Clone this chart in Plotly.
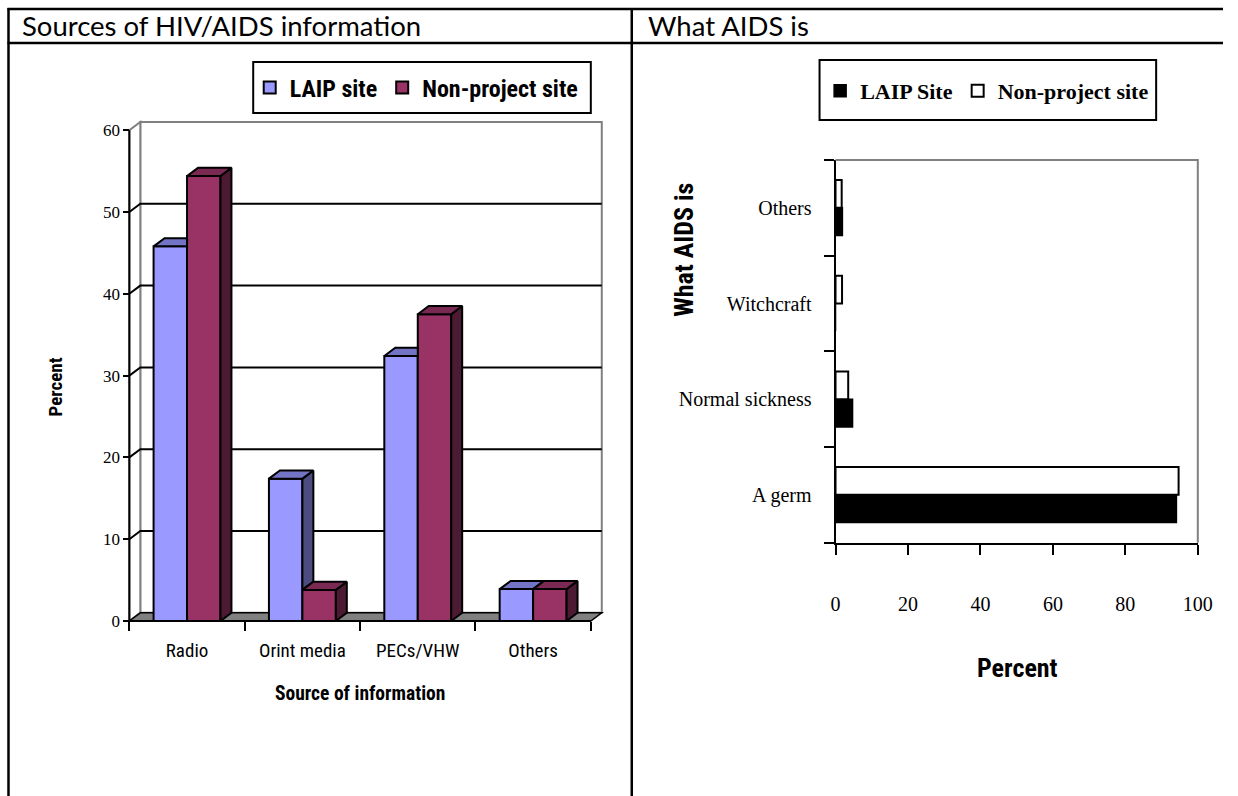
import plotly.graph_objects as go

# ---------------- data ----------------
sources = ["Radio", "Orint media", "PECs/VHW", "Others"]
laip_src = [45.8, 17.4, 32.4, 3.9]
nonproj_src = [54.4, 3.8, 37.5, 3.9]
src_ticks = [0, 10, 20, 30, 40, 50, 60]

meanings = ["A germ", "Normal sickness", "Witchcraft", "Others"]
laip_mean = [94.1, 4.7, 0.0, 1.9]
nonproj_mean = [94.7, 3.5, 1.8, 1.7]
mean_ticks = [0, 20, 40, 60, 80, 100]

# ---------------- page geometry helpers ----------------
W, H = 1238, 796
SX, OX = 0.985, 4.5   # horizontal compensation for the capture
def px(x):
    return ((x - OX) / SX) / W
def py(y):
    return 1 - y / H

COND = "Roboto Condensed, Noto Sans ExtraCondensed, Liberation Sans Narrow, DejaVu Sans Condensed, sans-serif"
SERIF = "Liberation Serif, Times New Roman, serif"
HEAD = "Lato, Open Sans, sans-serif"

# left (3-D column) chart geometry
BW = 0.29            # bar width in category units
DX, DY = 0.095, 1.0  # depth offset in data units
XR = [-0.62, 3.72]
YR = [-1.3, 62.0]
UX, UY = 115.5, 8.18     # target pixels per unit
AX_X, AX_Y = 129, 621    # target pixel position of front axes
left_dom_x = [px(AX_X + (XR[0] + 0.5) * UX), px(AX_X + (XR[1] + 0.5) * UX)]
left_dom_y = [py(AX_Y - YR[0] * UY), py(AX_Y - YR[1] * UY)]

C_L_FRONT, C_L_TOP, C_L_SIDE = "#9999FF", "#7474C6", "#4C4C80"
C_N_FRONT, C_N_TOP, C_N_SIDE = "#993366", "#7A2952", "#4C1A33"

fig = go.Figure()

idx = list(range(len(sources)))
fig.add_trace(go.Bar(x=idx, y=laip_src, width=BW, offset=-BW, name="LAIP site",
                     marker=dict(color=C_L_FRONT, line=dict(color="black", width=2)),
                     xaxis="x", yaxis="y", legend="legend", hoverinfo="skip"))
fig.add_trace(go.Bar(x=idx, y=nonproj_src, width=BW, offset=0, name="Non-project site",
                     marker=dict(color=C_N_FRONT, line=dict(color="black", width=2)),
                     xaxis="x", yaxis="y", legend="legend", hoverinfo="skip"))

# 3-D faces derived from the data
l_side_x, l_side_y, l_top_x, l_top_y = [], [], [], []
n_side_x, n_side_y, n_top_x, n_top_y = [], [], [], []
for i, (vl, vn) in enumerate(zip(laip_src, nonproj_src)):
    x0, x1, x2 = i - BW, i, i + BW
    if vl > vn:
        l_side_x += [x1, x1 + DX, x1 + DX, x1, x1, None]
        l_side_y += [vn, vn + DY, vl + DY, vl, vn, None]
    if vn >= vl + DY:
        l_top_x += [x0, x0 + DX, x1, x1, x0, None]
        l_top_y += [vl, vl + DY, vl + DY, vl, vl, None]
    else:
        l_top_x += [x0, x0 + DX, x1 + DX, x1, x0, None]
        l_top_y += [vl, vl + DY, vl + DY, vl, vl, None]
    n_side_x += [x2, x2 + DX, x2 + DX, x2, x2, None]
    n_side_y += [0, DY, vn + DY, vn, 0, None]
    n_top_x += [x1, x1 + DX, x2 + DX, x2, x1, None]
    n_top_y += [vn, vn + DY, vn + DY, vn, vn, None]

for xs, ys, col in [(l_side_x, l_side_y, C_L_SIDE), (l_top_x, l_top_y, C_L_TOP),
                    (n_side_x, n_side_y, C_N_SIDE), (n_top_x, n_top_y, C_N_TOP)]:
    fig.add_trace(go.Scatter(x=xs, y=ys, mode="lines", fill="toself", fillcolor=col,
                             line=dict(color="black", width=2), showlegend=False,
                             hoverinfo="skip", xaxis="x", yaxis="y"))

# right (horizontal bar) chart
midx = list(range(len(meanings)))
HW = 0.29
fig.add_trace(go.Bar(y=midx, x=laip_mean, orientation="h", width=HW, offset=-HW,
                     name="LAIP Site", marker=dict(color="black", line=dict(color="black", width=1.5)),
                     xaxis="x2", yaxis="y2", legend="legend2", hoverinfo="skip"))
fig.add_trace(go.Bar(y=midx, x=nonproj_mean, orientation="h", width=HW, offset=0,
                     name="Non-project site", marker=dict(color="white", line=dict(color="black", width=2)),
                     xaxis="x2", yaxis="y2", legend="legend2", hoverinfo="skip"))

# ---------------- shapes ----------------
shapes = []
GREY = "#808080"
xl, xr = -0.5, len(sources) - 0.5
top = src_ticks[-1]
shapes.append(dict(type="rect", xref="x", yref="y", x0=xl + DX, x1=xr + DX, y0=DY, y1=top + DY,
                   line=dict(color=GREY, width=2), fillcolor="white", layer="below"))
shapes.append(dict(type="path", xref="x", yref="y",
                   path=f"M{xl},{0} L{xl},{top} L{xl+DX},{top+DY} L{xl+DX},{DY} Z",
                   line=dict(color=GREY, width=2), fillcolor="white", layer="below"))
shapes.append(dict(type="path", xref="x", yref="y",
                   path=f"M{xl},0 L{xr},0 L{xr+DX},{DY} L{xl+DX},{DY} Z",
                   line=dict(color="black", width=1.5), fillcolor=GREY, layer="below"))
for g in src_ticks[1:-1]:
    shapes.append(dict(type="path", xref="x", yref="y",
                       path=f"M{xl},{g} L{xl+DX},{g+DY} L{xr+DX},{g+DY}",
                       line=dict(color="black", width=2), layer="below"))
shapes.append(dict(type="line", xref="x", yref="y", x0=xl, x1=xl, y0=0, y1=top,
                   line=dict(color="black", width=2), layer="above"))
shapes.append(dict(type="line", xref="x", yref="y", x0=xl, x1=xr, y0=0, y1=0,
                   line=dict(color="black", width=2), layer="above"))

shapes.append(dict(type="path", xref="x2 domain", yref="y2 domain", path="M0,1 L1,1 L1,0",
                   line=dict(color=GREY, width=2)))

shapes.append(dict(type="rect", xref="paper", yref="paper", x0=px(253), x1=px(591),
                   y0=py(113), y1=py(62), line=dict(color="black", width=2)))
shapes.append(dict(type="rect", xref="paper", yref="paper", x0=px(820), x1=px(1157),
                   y0=py(120), y1=py(60), line=dict(color="black", width=2)))

for yy in (9, 43):
    shapes.append(dict(type="line", xref="paper", yref="paper", x0=px(7), x1=1.0,
                       y0=py(yy), y1=py(yy), line=dict(color="black", width=2.5)))
for xx in (8, 632):
    shapes.append(dict(type="line", xref="paper", yref="paper", x0=px(xx), x1=px(xx),
                       y0=py(8), y1=0, line=dict(color="black", width=2.5)))

# ---------------- annotations ----------------
ann = [
    dict(text="Sources of HIV/AIDS information", x=px(20), y=py(26), xanchor="left", yanchor="middle",
         font=dict(family=HEAD, size=27.5, color="black")),
    dict(text="What AIDS is", x=px(646), y=py(26), xanchor="left", yanchor="middle",
         font=dict(family=HEAD, size=27.5, color="black")),
    dict(text="Percent", x=px(55), y=py(387), textangle=-90, xanchor="center", yanchor="middle",
         font=dict(family=COND, size=19, color="black", weight="bold")),
    dict(text="Source of information", x=px(360), y=py(693), xanchor="center", yanchor="middle",
         font=dict(family=COND, size=19.5, color="black", weight="bold")),
    dict(text="What AIDS is", x=px(684), y=py(250), textangle=-90, xanchor="center", yanchor="middle",
         font=dict(family=COND, size=26, color="black", weight="bold")),
    dict(text="Percent", x=px(1018), y=py(668), xanchor="center", yanchor="middle",
         font=dict(family=COND, size=26, color="black", weight="bold")),
]
for a in ann:
    a.update(xref="paper", yref="paper", showarrow=False)

fig.update_layout(
    width=W, height=H, autosize=False, margin=dict(l=0, r=0, t=0, b=0, pad=0),
    paper_bgcolor="white", plot_bgcolor="white",
    showlegend=True, barmode="overlay",
    shapes=shapes, annotations=ann,
    xaxis=dict(domain=left_dom_x, range=XR, anchor="free", position=py(AX_Y),
               tickvals=idx, ticktext=sources, ticks="", showgrid=False, zeroline=False,
               showline=False, ticklabelstandoff=16,
               tickfont=dict(family=COND, size=19, color="black"),
               minor=dict(tickvals=[i - 0.5 for i in range(len(sources) + 1)], ticks="outside",
                          ticklen=9, tickwidth=2, tickcolor="black", showgrid=False)),
    yaxis=dict(domain=left_dom_y, range=YR, anchor="free", position=px(AX_X),
               tickvals=src_ticks, ticks="outside", ticklen=6, tickwidth=2, tickcolor="black",
               showgrid=False, zeroline=False, showline=False,
               tickfont=dict(family=SERIF, size=17, color="black")),
    xaxis2=dict(domain=[px(836), px(1198.7)], range=[0, 100], anchor="y2",
                tickvals=mean_ticks, ticks="outside", ticklen=10, tickwidth=2, tickcolor="black",
                showline=True, linecolor="black", linewidth=2, showgrid=False, zeroline=False,
                ticklabelstandoff=32, tickfont=dict(family=SERIF, size=20, color="black")),
    yaxis2=dict(domain=[py(542.7), py(160)], range=[-0.5, len(meanings) - 0.5], anchor="x2",
                tickvals=midx, ticktext=meanings, ticks="", showline=True, linecolor="black",
                linewidth=2, showgrid=False, zeroline=False, ticklabelstandoff=18,
                tickfont=dict(family=SERIF, size=20, color="black"),
                minor=dict(tickvals=[i - 0.5 for i in range(len(meanings) + 1)], ticks="outside",
                           ticklen=10, tickwidth=2, tickcolor="black", showgrid=False)),
    legend=dict(x=px(249.5), y=py(88), xanchor="left", yanchor="middle", orientation="h",
                bgcolor="rgba(0,0,0,0)", borderwidth=0,
                font=dict(family=COND, size=24, color="black", weight="bold")),
    legend2=dict(x=px(820.6), y=py(91), xanchor="left", yanchor="middle", orientation="h",
                 bgcolor="rgba(0,0,0,0)", borderwidth=0,
                 font=dict(family=SERIF, size=22, color="black", weight="bold")),
)

fig.write_html(
    "out.html",
    config={"displayModeBar": False, "responsive": False},
    post_script="document.documentElement.style.overflow='hidden';"
                "document.body.style.overflow='hidden';document.body.style.margin='0';",
)
